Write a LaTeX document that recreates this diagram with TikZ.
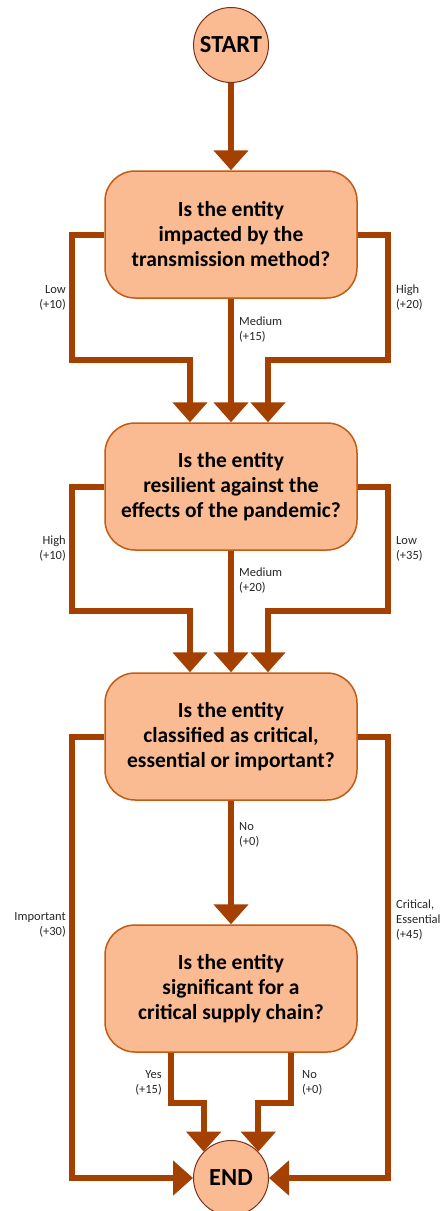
\documentclass[tikz,border=0pt]{standalone}
\usepackage{fontspec}
\setmainfont{Carlito}
\usetikzlibrary{arrows.meta}
\definecolor{peach}{RGB}{251,187,146}
\definecolor{boxedge}{RGB}{197,90,17}
\definecolor{circedge}{RGB}{120,50,30}
\definecolor{flow}{RGB}{164,64,0}
\definecolor{labeltext}{RGB}{38,38,38}
\tikzset{
  question/.style={draw=boxedge, line width=1.5pt, fill=peach, rounded corners=30pt,
    minimum width=252pt, minimum height=127pt, align=center, inner sep=0pt,
    font=\fontsize{21.5}{25}\selectfont\bfseries},
  terminal/.style={draw=circedge, line width=1pt, fill=peach, circle,
    minimum size=75pt, inner sep=0pt, font=\fontsize{24.5}{28}\selectfont\bfseries},
  arr/.style={draw=flow, line width=6pt, line join=miter,
    -{Triangle[width=34pt,length=20pt]}},
  lbl/.style={text=labeltext, inner sep=0pt, font=\fontsize{12.5}{15}\selectfont}
}
\begin{document}
\begin{tikzpicture}[x=1pt,y=-1pt]
\useasboundingbox (0,0) rectangle (443,1211);

% nodes
\node[terminal] (start) at (231,45) {START};
\node[question] (b1) at (231,234.5) {Is the entity\\impacted by the\\transmission method?};
\node[question] (b2) at (231,486.5) {Is the entity\\resilient against the\\effects of the pandemic?};
\node[question] (b3) at (231,736.5) {Is the entity\\classified as critical,\\essential or important?};
\node[question] (b4) at (231,988.5) {Is the entity\\significant for a\\critical supply chain?};
\node[terminal] (end) at (231,1178) {END};

% start
\draw[arr] (start) -- (b1);

% question 1
\draw[arr] (b1.west) -| (72,360) -| ([xshift=-41pt]b2.north);
\draw[arr] (b1) -- (b2);
\draw[arr] (b1.east) -| (388,360) -| ([xshift=37pt]b2.north);
\node[lbl, align=right, anchor=east] (l1a) at (66,297.5) {Low\\(+10)};
\node[lbl, align=left, anchor=west] (l1b) at (239,329.5) {Medium\\(+15)};
\node[lbl, align=left, anchor=west] (l1c) at (396,297.5) {High\\(+20)};

% question 2
\draw[arr] (b2.west) -| (72,611) -| ([xshift=-41pt]b3.north);
\draw[arr] (b2) -- (b3);
\draw[arr] (b2.east) -| (388,611) -| ([xshift=37pt]b3.north);
\node[lbl, align=right, anchor=east] (l2a) at (66,548.5) {High\\(+10)};
\node[lbl, align=left, anchor=west] (l2b) at (239,580.5) {Medium\\(+20)};
\node[lbl, align=left, anchor=west] (l2c) at (396,548.5) {Low\\(+35)};

% question 3
\draw[arr] (b3.west) -| (72,1178) -- (end);
\draw[arr] (b3) -- (b4);
\draw[arr] (b3.east) -| (388,1178) -- (end);
\node[lbl, align=left, anchor=west] (l3b) at (239,834.5) {No\\(+0)};
\node[lbl, align=right, anchor=east] (l3a) at (66,924.5) {Important\\(+30)};
\node[lbl, align=left, anchor=west] (l3c) at (396,920) {Critical,\\Essential\\(+45)};

% question 4
\draw[arr] ([xshift=-60pt]b4.south) -- ++(0,50) -| (end.136);
\draw[arr] ([xshift=60pt]b4.south) -- ++(0,50) -| (end.44);
\node[lbl, align=right, anchor=east] (l4a) at (162,1082.5) {Yes\\(+15)};
\node[lbl, align=left, anchor=west] (l4b) at (302,1082.5) {No\\(+0)};
\end{tikzpicture}
\end{document}
